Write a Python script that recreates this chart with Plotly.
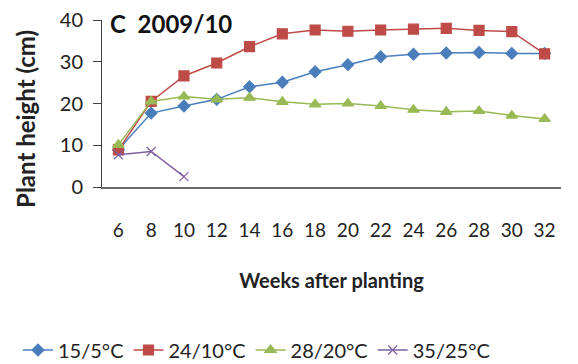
import plotly.graph_objects as go

weeks = ["6", "8", "10", "12", "14", "16", "18", "20", "22", "24", "26", "28", "30", "32"]
t15_5 = [8.9, 17.7, 19.4, 21.0, 24.0, 25.1, 27.6, 29.3, 31.2, 31.8, 32.1, 32.2, 32.0, 32.0]
t24_10 = [8.9, 20.5, 26.6, 29.7, 33.6, 36.7, 37.6, 37.3, 37.6, 37.8, 38.0, 37.5, 37.2, 31.9]
t28_20 = [10.1, 20.5, 21.7, 21.0, 21.4, 20.4, 19.8, 20.0, 19.4, 18.5, 18.0, 18.2, 17.1, 16.3]
t35_25 = [7.7, 8.5, 2.5]

font = "Lato, Carlito, 'Open Sans', sans-serif"

fig = go.Figure()
series = [
    ("15/5°C", t15_5, "#4A7EBB", "diamond", 9),
    ("24/10°C", t24_10, "#BE4B48", "square", 10),
    ("28/20°C", t28_20, "#98B954", "triangle-up", 10),
    ("35/25°C", t35_25, "#7D60A0", "x-thin", 9),
]
for name, vals, col, sym, sz in series:
    fig.add_trace(go.Scatter(
        x=weeks[:len(vals)], y=vals, name=name, mode="lines+markers",
        line=dict(color=col, width=1.5),
        marker=dict(symbol=sym, size=sz, color=col, line=dict(color=col, width=1.2)),
    ))

fig.update_layout(
    width=570, height=356,
    margin=dict(l=94, r=17, t=12, b=177, autoexpand=False),
    plot_bgcolor="white", paper_bgcolor="white",
    font=dict(family=font, size=19, color="#222"),
    showlegend=True,
    legend=dict(orientation="h", x=-0.183, xanchor="left", y=-0.976, yanchor="middle",
                font=dict(size=20, color="#222"), itemwidth=30, tracegroupgap=0),
    xaxis=dict(
        type="category", range=[-0.5, 13.5], showline=True, linecolor="#6a6a6a", linewidth=2,
        ticks="", showgrid=False, zeroline=False, ticklabelstandoff=25,
        tickfont=dict(size=19),
        title=dict(text="<b>Weeks after planting</b>", font=dict(size=20), standoff=34),
    ),
    yaxis=dict(
        range=[0, 40], dtick=10, showline=True, linecolor="#404040", linewidth=1,
        ticks="outside", ticklen=8, tickcolor="#404040", showgrid=False, zeroline=False,
        tickfont=dict(size=20), ticklabelstandoff=6, ticklabeloverflow="allow",
    ),
)
fig.add_annotation(text="<b>Plant height (cm)</b>", xref="paper", yref="paper", x=-0.168, y=0.407,
                   xanchor="center", yanchor="middle", textangle=-90, showarrow=False,
                   font=dict(size=24, color="#222"))
fig.add_annotation(text="<b>C  2009/10</b>", xref="paper", yref="paper", x=0.012, y=1.075,
                   xanchor="left", yanchor="top", showarrow=False, font=dict(size=24, color="#111"))

fig.write_html("out.html")
